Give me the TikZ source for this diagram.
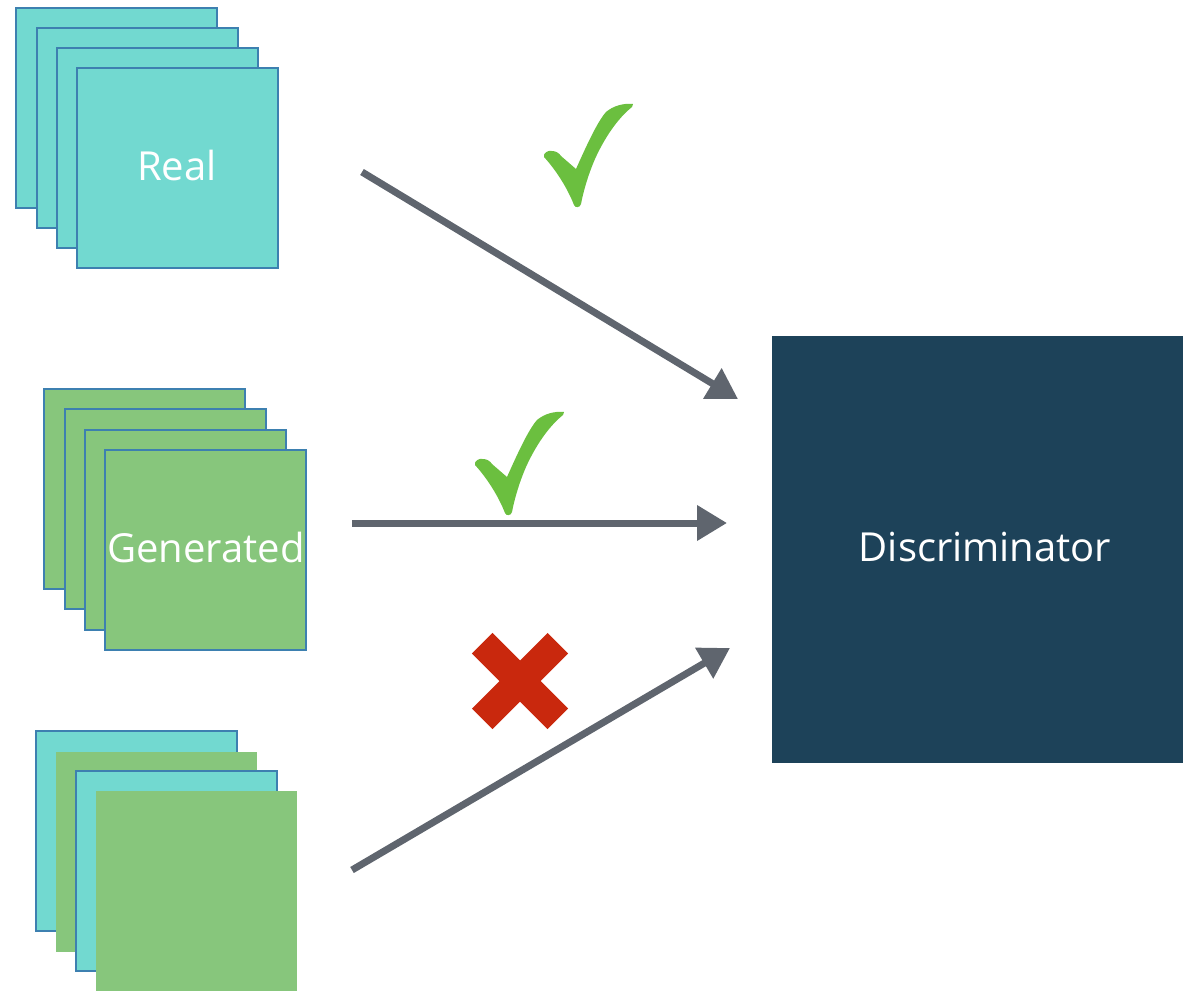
\documentclass[tikz,border=0pt]{standalone}
\usepackage{fontspec}
\setmainfont{Open Sans}
\usetikzlibrary{arrows.meta}
\definecolor{cTeal}{HTML}{72D9D0}
\definecolor{cGreen}{HTML}{87C67C}
\definecolor{cBorder}{HTML}{3D80B0}
\definecolor{cDisc}{HTML}{1D4259}
\definecolor{cArrow}{HTML}{5F656E}
\definecolor{cCheck}{HTML}{6BBF3F}
\definecolor{cCross}{HTML}{C9280D}
\begin{document}
\begin{tikzpicture}[x=1pt,y=-1pt,
  card/.style={line width=1.5pt, minimum width=201pt, minimum height=200pt,
    inner sep=0pt, outer sep=0pt, anchor=north west, text=white,
    font=\fontsize{40}{48}\selectfont},
  tealcard/.style={card, draw=cBorder, fill=cTeal},
  greencard/.style={card, draw=cBorder, fill=cGreen},
  plaingreen/.style={card, draw=none, fill=cGreen},
  flow/.style={draw=cArrow, line width=7pt, -{Triangle[length=30pt,width=34pt]}},
  crossbar/.style={fill=cCross, draw=none, minimum width=107pt, minimum height=29pt, inner sep=0pt},
  tick/.pic={\fill[cCheck] (-33,-50) .. controls (-34,-54) and (-29,-57) .. (-25,-56)
     .. controls (-21,-56) and (-18,-54) .. (-16,-51)
     -- (-1,-38) .. controls (8,-58) and (20,-85) .. (29,-95)
     .. controls (36,-101) and (46,-104) .. (56,-103)
     -- (55,-100) .. controls (40,-88) and (27,-68) .. (18,-48)
     .. controls (11,-32) and (6,-14) .. (4,-3)
     .. controls (3,1) and (-2,1) .. (-3,-2)
     .. controls (-10,-20) and (-22,-38) .. (-33,-50) -- cycle;}
]
\useasboundingbox (0,0) rectangle (1183,991);

% Real stack
\node[tealcard] (real1) at (16,8) {};
\node[tealcard] (real2) at (37,28) {};
\node[tealcard] (real3) at (57,48) {};
\node[tealcard] (real4) at (77,68) {};
\node[text=white, font=\fontsize{40}{48}\selectfont] (reallabel) at (177,165) {Real};

% Generated stack
\node[greencard] (gen1) at (44,389) {};
\node[greencard] (gen2) at (65,409) {};
\node[greencard] (gen3) at (85,430) {};
\node[greencard] (gen4) at (105,450) {};
\node[text=white, font=\fontsize{40}{48}\selectfont] (genlabel) at (206,547) {Generated};

% Mixed stack
\node[tealcard] (mix1) at (36,731) {};
\node[plaingreen] (mix2) at (56,752) {};
\node[tealcard] (mix3) at (76,771) {};
\node[plaingreen] (mix4) at (96,791) {};

% Discriminator
\node[fill=cDisc, minimum width=411pt, minimum height=427pt, inner sep=0pt, outer sep=0pt,
  anchor=north west] (disc) at (772,336) {};
\node[text=white, font=\fontsize{40}{48}\selectfont] (disclabel) at (985,547) {Discriminator};

% Arrow end points
\coordinate (s1) at (362,172);
\coordinate (e1) at (738,399);
\coordinate (s2) at (352,523);
\coordinate (e2) at (727,523);
\coordinate (s3) at (352,870);
\coordinate (e3) at (730,648);
\draw[flow] (s1) -- (e1);
\draw[flow] (s2) -- (e2);
\draw[flow] (s3) -- (e3);

% Marks
\pic at (577,207) {tick};
\pic at (508,515) {tick};
\node[crossbar, rotate=-45] (xa) at (520,681) {};
\node[crossbar, rotate=45] (xb) at (520,681) {};
\end{tikzpicture}
\end{document}
